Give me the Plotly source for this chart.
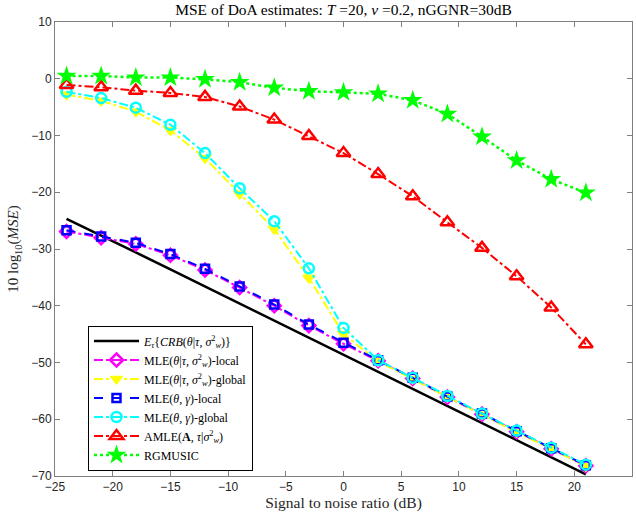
import plotly.graph_objects as go

snr = [-24, -21, -18, -15, -12, -9, -6, -3, 0, 3, 6, 9, 12, 15, 18, 21]

crb = [-24.7, -27.6, -30.6, -33.6, -36.6, -39.6, -42.6, -45.6, -48.6, -51.6,
       -54.6, -57.6, -60.6, -63.6, -66.6, -69.7]
mle_tau_local = [-26.9, -28.0, -29.1, -31.1, -33.7, -36.8, -40.0, -43.5, -46.7,
                 -49.7, -52.8, -56.1, -59.1, -62.2, -65.2, -68.2]
mle_tau_global = [-2.8, -3.9, -5.8, -9.1, -14.0, -20.3, -26.5, -35.1, -45.0,
                  -49.8, -52.9, -56.1, -59.2, -62.3, -65.2, -68.3]
mle_gamma_local = [-26.7, -27.8, -28.9, -30.9, -33.5, -36.6, -39.8, -43.3, -46.5,
                   -49.6, -52.7, -56.0, -59.0, -62.1, -65.1, -68.1]
mle_gamma_global = [-2.3, -3.4, -5.1, -8.1, -13.1, -19.3, -25.1, -33.4, -43.9,
                    -49.6, -52.7, -55.9, -59.0, -62.0, -65.0, -68.0]
amle = [-1.1, -1.5, -2.1, -2.5, -3.2, -4.9, -7.2, -10.1, -13.1, -16.8, -20.7,
        -25.3, -29.8, -34.8, -40.3, -46.8]
rgmusic = [0.5, 0.5, 0.2, 0.2, -0.1, -0.6, -1.6, -2.2, -2.4, -2.65, -3.8, -6.2,
           -10.2, -14.4, -17.7, -20.1]

names = [
    "<i>E</i><sub><i>τ</i></sub>{<i>CRB</i>(<i>θ</i>|<i>τ</i>, <i>σ</i><sup>2</sup><sub><i>w</i></sub>)}",
    "MLE(<i>θ</i>|<i>τ</i>, <i>σ</i><sup>2</sup><sub><i>w</i></sub>)-local",
    "MLE(<i>θ</i>|<i>τ</i>, <i>σ</i><sup>2</sup><sub><i>w</i></sub>)-global",
    "MLE(<i>θ</i>, <i>γ</i>)-local",
    "MLE(<i>θ</i>, <i>γ</i>)-global",
    "AMLE(<b>A</b>, <i>τ</i>|<i>σ</i><sup>2</sup><sub><i>w</i></sub>)",
    "RGMUSIC",
]

fig = go.Figure()

fig.add_trace(go.Scatter(x=snr, y=crb, name=names[0], mode="lines",
                         line=dict(color="black", width=2.6)))
fig.add_trace(go.Scatter(x=snr, y=mle_tau_local, name=names[1], mode="lines+markers",
                         line=dict(color="#ff00ff", width=2, dash="dashdot"),
                         marker=dict(symbol="diamond-open", size=10, color="#ff00ff",
                                     line=dict(width=2.5))))
fig.add_trace(go.Scatter(x=snr, y=mle_tau_global, name=names[2], mode="lines+markers",
                         line=dict(color="#ffff00", width=2, dash="dashdot"),
                         marker=dict(symbol="triangle-down", size=11, color="#ffff00",
                                     line=dict(width=1, color="#ffff00"))))
fig.add_trace(go.Scatter(x=snr, y=mle_gamma_local, name=names[3], mode="lines+markers",
                         line=dict(color="#0000ff", width=2, dash="dash"),
                         marker=dict(symbol="square-open", size=8, color="#0000ff",
                                     line=dict(width=2.5))))
fig.add_trace(go.Scatter(x=snr, y=mle_gamma_global, name=names[4], mode="lines+markers",
                         line=dict(color="#00ffff", width=2, dash="dashdot"),
                         marker=dict(symbol="circle-open", size=10, color="#00ffff",
                                     line=dict(width=2.5))))
fig.add_trace(go.Scatter(x=snr, y=amle, name=names[5], mode="lines+markers",
                         line=dict(color="#ff0000", width=2, dash="dashdot"),
                         marker=dict(symbol="triangle-up-open", size=12, color="#ff0000",
                                     line=dict(width=2.5))))
fig.add_trace(go.Scatter(x=snr, y=rgmusic, name=names[6], mode="lines+markers",
                         line=dict(color="#00ff00", width=2.5, dash="dot"),
                         marker=dict(symbol="star", size=15, color="#00ff00",
                                     line=dict(width=0))))

axis_common = dict(
    showline=True, mirror="ticks", linecolor="#7f7f7f", linewidth=1,
    ticks="inside", ticklen=5, tickcolor="#7f7f7f",
    showgrid=False, zeroline=False,
    tickfont=dict(family="Liberation Sans, Arial, sans-serif", size=12, color="#262626"),
)

serif = "Liberation Serif, Times New Roman, serif"

fig.update_layout(
    width=636, height=520,
    margin=dict(l=55, r=4, t=22, b=44),
    paper_bgcolor="white", plot_bgcolor="white",
    title=dict(
        text="MSE of DoA estimates: <i>T</i> =20, <i>ν</i> =0.2, nGGNR=30dB",
        x=(55 + 632) / 2 / 636, xanchor="center", y=0.982, yanchor="middle",
        font=dict(family=serif, size=15.5, color="black"),
    ),
    xaxis=dict(range=[-25, 25], tickvals=[-25, -20, -15, -10, -5, 0, 5, 10, 15, 20, 25],
               title=dict(text="Signal to noise ratio (dB)", standoff=3,
                          font=dict(family=serif, size=15.5, color="#262626")),
               **axis_common),
    yaxis=dict(range=[-70, 10], tickvals=[-70, -60, -50, -40, -30, -20, -10, 0, 10],
               title=dict(text="10 log<sub>10</sub>(<i>MSE</i>)", standoff=8,
                          font=dict(family=serif, size=15, color="#262626")),
               **axis_common),
    legend=dict(
        x=(88 - 55) / 577, y=(476 - 398) / 454, xanchor="left", yanchor="middle",
        bgcolor="white", bordercolor="black", borderwidth=1,
        font=dict(family=serif, size=12, color="black"),
        itemwidth=45, tracegroupgap=0,
    ),
    showlegend=True,
)

fig.write_html("out.html")
